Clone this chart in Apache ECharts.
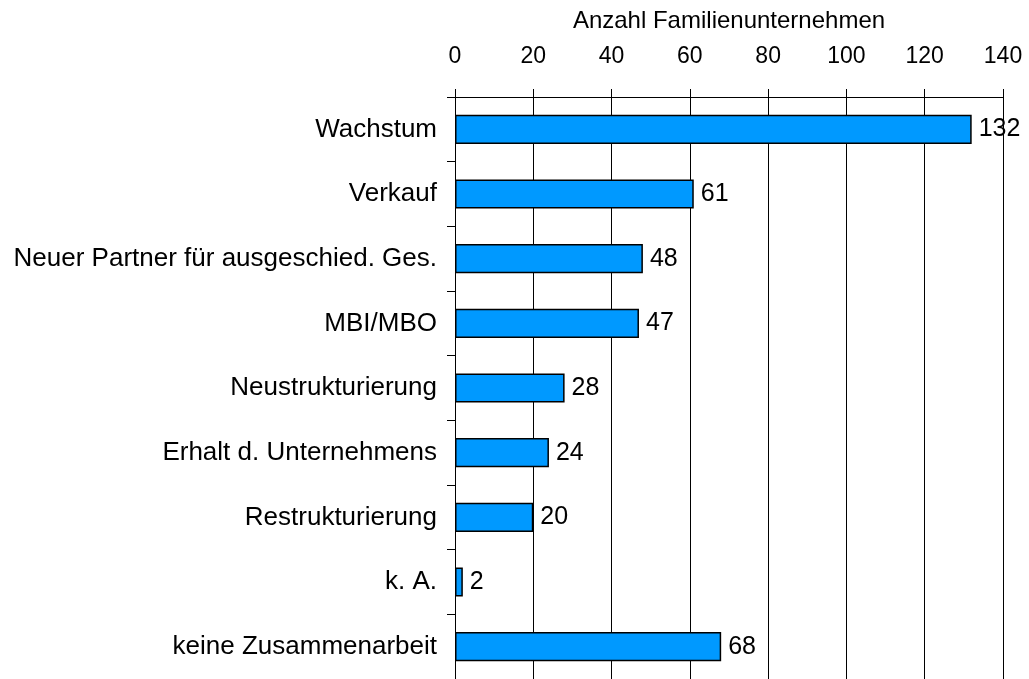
<!DOCTYPE html>
<html>
<head>
<meta charset="utf-8">
<script src="https://cdn.jsdelivr.net/npm/echarts@6/dist/echarts.min.js"></script>
<style>
  html, body { margin: 0; padding: 0; background: #fff; }
  #chart { width: 1029px; height: 679px; }
</style>
</head>
<body>
<div id="chart"></div>
<script>
// Kategorien und Werte
var categories = [
  'Wachstum',
  'Verkauf',
  'Neuer Partner für ausgeschied. Ges.',
  'MBI/MBO',
  'Neustrukturierung',
  'Erhalt d. Unternehmens',
  'Restrukturierung',
  'k. A.',
  'keine Zusammenarbeit'
]
var values = [132, 61, 48, 47, 28, 24, 20, 2, 68]
var axisName = 'Anzahl Familienunternehmen'

var font = 'Liberation Sans, Arial, sans-serif'
var chart = echarts.init(document.getElementById('chart'))
chart.setOption({
  backgroundColor: '#fff',
  animation: false,
  grid: { left: 455, right: 26, top: 97, bottom: -5 },
  xAxis: {
    type: 'value',
    position: 'top',
    min: 0,
    max: 140,
    interval: 20,
    name: axisName,
    nameLocation: 'middle',
    nameGap: 64,
    nameTextStyle: { color: '#000', fontSize: 24, fontFamily: font },
    axisLine: { show: true, lineStyle: { color: '#000', width: 1 } },
    axisTick: { show: true, inside: false, length: 8, lineStyle: { color: '#000' } },
    axisLabel: { color: '#000', fontSize: 23, fontFamily: font, margin: 29 },
    splitLine: { show: true, lineStyle: { color: '#000', width: 1 } }
  },
  yAxis: {
    type: 'category',
    inverse: true,
    data: categories,
    axisLine: { show: true, lineStyle: { color: '#000', width: 1 } },
    // Ticks zwischen den Kategorien
    axisTick: { show: true, length: 8, lineStyle: { color: '#000' } },
    axisLabel: { color: '#000', fontSize: 26, fontFamily: font, margin: 18 }
  },
  series: [{
    type: 'bar',
    data: values,
    barWidth: '45%',
    itemStyle: { color: '#0099ff', borderColor: '#000', borderWidth: 1.5 },
    label: {
      show: true,
      position: 'right',
      distance: 7,
      color: '#000',
      fontSize: 25,
      fontFamily: font
    }
  }]
})
</script>
</body>
</html>
